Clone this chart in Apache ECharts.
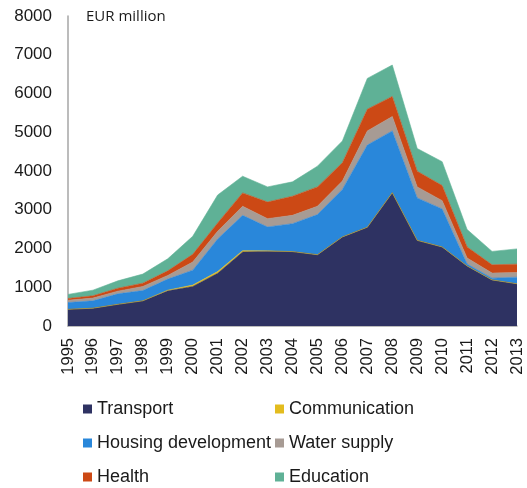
<!DOCTYPE html>
<html>
<head>
<meta charset="utf-8">
<script src="https://cdn.jsdelivr.net/npm/echarts@6/dist/echarts.min.js"></script>
<style>
  html, body { margin: 0; padding: 0; background: #fff; }
  #chart { width: 527px; height: 488px; }
</style>
</head>
<body>
<div id="chart"></div>
<script>
// Years on the category axis
const years = ['1995','1996','1997','1998','1999','2000','2001','2002','2003','2004',
               '2005','2006','2007','2008','2009','2010','2011','2012','2013'];

// Spending by sector, EUR million (stacked in this order)
const transport     = [430, 460, 560, 650, 910, 1020, 1360, 1910, 1930, 1920, 1840, 2300, 2550, 3440, 2210, 2040, 1550, 1190, 1090];
const communication = [0, 0, 0, 0, 15, 35, 45, 35, 10, 0, 0, 0, 0, 0, 0, 0, 0, 0, 0];
const housing       = [175, 190, 270, 265, 285, 385, 840, 910, 615, 720, 1035, 1225, 2120, 1595, 1095, 980, 50, 45, 170];
const waterSupply   = [60, 70, 70, 105, 95, 210, 200, 235, 215, 215, 215, 215, 365, 370, 285, 215, 155, 130, 120];
const health        = [45, 60, 75, 85, 120, 200, 215, 345, 430, 495, 500, 475, 560, 520, 405, 390, 285, 215, 215];
const education     = [105, 145, 190, 235, 310, 465, 720, 430, 390, 370, 535, 560, 795, 810, 585, 615, 450, 345, 395];

// Y axis ticks
const yMin = 0, yMax = 8000, yStep = 1000;

const sectors = [
  { name: 'Transport',           data: transport,     color: '#2E3262' },
  { name: 'Communication',       data: communication, color: '#E3BC1E' },
  { name: 'Housing development', data: housing,       color: '#2987DA' },
  { name: 'Water supply',        data: waterSupply,   color: '#A79B94' },
  { name: 'Health',              data: health,        color: '#CC4915' },
  { name: 'Education',           data: education,     color: '#5FB196' }
];

const font = '"Liberation Sans", Arial, sans-serif';

const chart = echarts.init(document.getElementById('chart'), null, { renderer: 'canvas' });

const legendBase = {
  orient: 'vertical',
  padding: 0,
  itemWidth: 9,
  itemHeight: 9,
  itemGap: 16,
  icon: 'rect',
  selectedMode: false,
  textStyle: { fontFamily: font, fontSize: 18, color: '#1a1a1a' }
};

chart.setOption({
  animation: false,
  color: sectors.map(s => s.color),
  grid: { left: 68, right: 10, top: 16, bottom: 162, containLabel: false },
  graphic: [{
    type: 'text',
    left: 86,
    top: 9,
    style: { text: 'EUR million', font: '15px "Open Sans", sans-serif', fill: '#1a1a1a' }
  }],
  legend: [
    Object.assign({}, legendBase, { left: 83, top: 400, data: ['Transport', 'Housing development', 'Health'] }),
    Object.assign({}, legendBase, { left: 275, top: 400, data: ['Communication', 'Water supply', 'Education'] })
  ],
  xAxis: {
    type: 'category',
    data: years,
    boundaryGap: false,
    axisLine: { lineStyle: { color: '#a6a6a6', width: 1.5 } },
    axisTick: { show: false },
    axisLabel: { rotate: 90, fontFamily: font, fontSize: 16.5, color: '#1a1a1a', margin: 12, interval: 0 }
  },
  yAxis: {
    type: 'value',
    min: yMin,
    max: yMax,
    interval: yStep,
    axisLine: { show: true, lineStyle: { color: '#a6a6a6', width: 1.5 } },
    axisTick: { show: false },
    splitLine: { show: false },
    axisLabel: { fontFamily: font, fontSize: 17, color: '#1a1a1a', margin: 16, formatter: v => String(v) }
  },
  series: sectors.map(s => ({
    name: s.name,
    type: 'line',
    stack: 'total',
    data: s.data,
    showSymbol: false,
    symbol: 'none',
    lineStyle: { width: 0.6, color: s.color },
    areaStyle: { color: s.color, opacity: 1 },
    emphasis: { disabled: true }
  }))
});
</script>
</body>
</html>
